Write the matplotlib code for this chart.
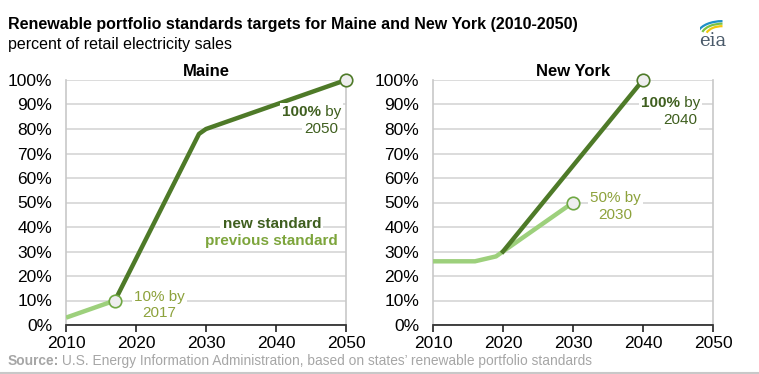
import numpy as np
import matplotlib.pyplot as plt
from matplotlib.patches import Arc

plt.rcParams['font.family'] = ['Liberation Sans', 'DejaVu Sans']

# Data
maine_prev_years = [2010, 2017]
maine_prev_vals = [3, 10]
maine_new_years = [2017, 2029, 2030, 2050]
maine_new_vals = [10, 78, 80, 100]

ny_prev_years = [2010, 2016, 2019, 2020, 2030]
ny_prev_vals = [26, 26, 28, 30, 50]
ny_new_years = [2020, 2040]
ny_new_vals = [30, 100]

x_ticks = [2010, 2020, 2030, 2040, 2050]
y_ticks = list(range(0, 101, 10))

dark = '#4e7a28'
light = '#9dd07c'
dark_txt = '#3f5f1f'
light_txt = '#8da23c'
grid_c = '#d9d9d9'

fig = plt.figure(figsize=(7.59, 3.74), dpi=100)


def W(x):
    return x / 759


def H(y):
    return 1 - y / 374


def setup(ax, title):
    ax.set_xlim(2010, 2050)
    ax.set_ylim(0, 100)
    ax.set_xticks(x_ticks)
    ax.set_yticks(y_ticks)
    ax.set_yticklabels([f'{v}%' for v in y_ticks])
    ax.grid(axis='y', color=grid_c, lw=1.3)
    ax.set_axisbelow(True)
    for s in ['left', 'right']:
        ax.spines[s].set_color('#c8c8c8')
        ax.spines[s].set_linewidth(1.2)
    ax.spines['top'].set_visible(False)
    ax.spines['bottom'].set_color('#222222')
    ax.spines['bottom'].set_linewidth(1.2)
    ax.tick_params(axis='y', length=0, labelsize=12.5, pad=10)
    ax.tick_params(axis='x', length=5, width=1.2, color='#222222', labelsize=12.5, pad=3)
    ax.set_title(title, fontsize=12, fontweight='bold', pad=3)


box = dict(facecolor='white', edgecolor='none', pad=1.5)

def label(ax, x, y, bold, rest, year, color, dy):
    ax.text(x, y, bold, ha='right', va='center', fontsize=11, fontweight='bold',
            color=color, bbox=box, zorder=4.2)
    ax.text(x, y, ' ' + rest, ha='left', va='center', fontsize=11,
            color=color, bbox=box, zorder=4)
    ax.text(x, y - dy, year, ha='center', va='center', fontsize=11,
            color=color, bbox=box, zorder=4)


mk_new = dict(marker='o', ms=9, mfc='#eeeeee', mec=dark, mew=1.2, clip_on=False)
mk_prev = dict(marker='o', ms=9, mfc='#eeeeee', mec='#6fa843', mew=1.2, clip_on=False)

# Maine
ax1 = fig.add_axes([W(66), H(325), W(346) - W(66), H(80) - H(325)])
setup(ax1, 'Maine')
ax1.plot(maine_prev_years, maine_prev_vals, color=light, lw=3.2, solid_capstyle='butt', zorder=3)
ax1.plot(maine_new_years, maine_new_vals, color=dark, lw=3.2, zorder=3, clip_on=False)
ax1.plot(maine_prev_years[-1], maine_prev_vals[-1], zorder=5, **mk_prev)
ax1.plot(maine_new_years[-1], maine_new_vals[-1], zorder=5, **mk_new)
label(ax1, 2046.4, 87, '100%', 'by', '2050', dark_txt, 7)
ax1.text(2023.3, 11.5, '10% by', ha='center', va='center', fontsize=11, color=light_txt,
         bbox=box, zorder=4)
ax1.text(2023.3, 4.8, '2017', ha='center', va='center', fontsize=11, color=light_txt,
         bbox=box, zorder=4)
ax1.text(2039.4, 41.2, 'new standard', ha='center', va='center', fontsize=11,
         fontweight='bold', color=dark_txt, bbox=box, zorder=4)
ax1.text(2039.4, 34.3, 'previous standard', ha='center', va='center', fontsize=11,
         fontweight='bold', color='#7da53c', bbox=box, zorder=4)

# New York
ax2 = fig.add_axes([W(433), H(325), W(713) - W(433), H(80) - H(325)])
setup(ax2, 'New York')
ax2.plot(ny_prev_years, ny_prev_vals, color=light, lw=3.2, zorder=3)
ax2.plot(ny_new_years, ny_new_vals, color=dark, lw=3.2, zorder=3, clip_on=False)
ax2.plot(ny_prev_years[-1], ny_prev_vals[-1], zorder=5, **mk_prev)
ax2.plot(ny_new_years[-1], ny_new_vals[-1], zorder=5, **mk_new)
label(ax2, 2045.3, 90.5, '100%', 'by', '2040', dark_txt, 7)
ax2.text(2036.1, 52, '50% by', ha='center', va='center', fontsize=11, color=light_txt,
         bbox=box, zorder=4)
ax2.text(2036.0, 45, '2030', ha='center', va='center', fontsize=11, color=light_txt,
         bbox=box, zorder=4)

# Titles and source
fig.text(W(8), H(24), 'Renewable portfolio standards targets for Maine and New York (2010-2050)',
         fontsize=11.5, fontweight='bold', va='center', ha='left')
fig.text(W(8), H(44), 'percent of retail electricity sales', fontsize=11.5, va='center', ha='left')
fig.text(W(8), H(361), 'Source:', fontsize=9.9, fontweight='bold', color='#a6a6a6',
         va='center', ha='left')
fig.text(W(62), H(361), 'U.S. Energy Information Administration, based on states\u2019 renewable portfolio standards',
         fontsize=9.9, color='#a6a6a6', va='center', ha='left')
fig.add_artist(plt.Line2D([0, 1], [H(372.5), H(372.5)], color='#c8c8c8', lw=1.5))

# eia logo
fig.text(W(713), H(41), 'eia', fontsize=13, family='DejaVu Serif', color='#4a5a6a',
         va='center', ha='center')
lax = fig.add_axes([W(700), H(34), W(30), H(20) - H(34)])
lax.set_xlim(0, 1)
lax.set_ylim(0, 1)
lax.axis('off')
for r, c in zip([0.55, 0.7, 0.85], ['#f2c80f', '#7cc243', '#1e90c8']):
    lax.add_patch(Arc((0.75, -0.1), 2 * r, 2 * r * 1.2, theta1=90, theta2=160, color=c, lw=1.6))

fig.savefig('out.png', dpi=100)
